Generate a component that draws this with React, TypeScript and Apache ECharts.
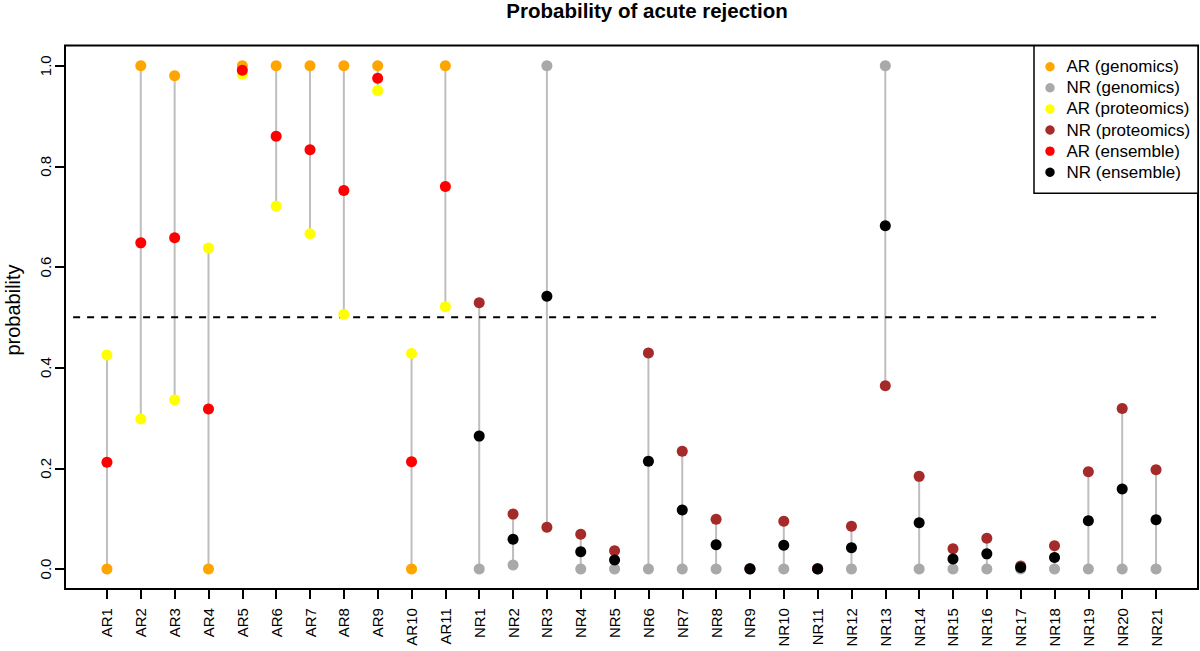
import React, { useEffect, useRef } from "react";
import * as echarts from "echarts";

const arSamples = ["AR1", "AR2", "AR3", "AR4", "AR5", "AR6", "AR7", "AR8", "AR9", "AR10", "AR11"];
const nrSamples = ["NR1", "NR2", "NR3", "NR4", "NR5", "NR6", "NR7", "NR8", "NR9", "NR10", "NR11", "NR12", "NR13", "NR14", "NR15", "NR16", "NR17", "NR18", "NR19", "NR20", "NR21"];

const arGenomics = [0, 1, 0.98, 0, 1, 1, 1, 1, 1, 0, 1];
const arProteomics = [0.425, 0.298, 0.336, 0.638, 0.983, 0.721, 0.666, 0.506, 0.951, 0.428, 0.521];
const arEnsemble = [0.212, 0.648, 0.658, 0.318, 0.991, 0.86, 0.833, 0.752, 0.975, 0.213, 0.76];

const nrGenomics = [0, 0.008, 1, 0, 0, 0, 0, 0, 0, 0, 0, 0, 1, 0, 0, 0, 0, 0, 0, 0, 0];
const nrProteomics = [0.529, 0.109, 0.083, 0.069, 0.036, 0.429, 0.234, 0.099, 0.001, 0.095, 0.001, 0.085, 0.364, 0.184, 0.04, 0.061, 0.006, 0.046, 0.193, 0.319, 0.197];
const nrEnsemble = [0.264, 0.059, 0.542, 0.034, 0.018, 0.214, 0.117, 0.048, 0.0, 0.047, 0.0, 0.042, 0.682, 0.092, 0.02, 0.03, 0.003, 0.023, 0.096, 0.159, 0.098];

const yTicks = [0, 0.2, 0.4, 0.6, 0.8, 1.0];
const threshold = 0.5;
const yAxisTitle = "probability";
const chartTitle = "Probability of acute rejection";
const seriesNames = ["AR (genomics)", "NR (genomics)", "AR (proteomics)", "NR (proteomics)", "AR (ensemble)", "NR (ensemble)"];
const seriesColors = ["#FFA500", "#A9A9A9", "#FFFF00", "#A52A2A", "#FF0000", "#000000"];

const FONT = "'Liberation Sans', Arial, Helvetica, sans-serif";

export default function App() {
  const ref = useRef<HTMLDivElement>(null);

  useEffect(() => {
    if (!ref.current) return;
    const chart = echarts.init(ref.current, undefined, { renderer: "svg" });

    const samples = [...arSamples, ...nrSamples];
    const nAR = arSamples.length;
    const genomics = [...arGenomics, ...nrGenomics];
    const proteomics = [...arProteomics, ...nrProteomics];
    const xIdx = samples.map((_, i) => i);

    const rangeData = samples.map((_, i) => [
      i,
      Math.min(genomics[i], proteomics[i]),
      Math.max(genomics[i], proteomics[i]),
    ]);

    const arPts = (vals: number[]) => vals.map((v, i) => [i, v]);
    const nrPts = (vals: number[]) => vals.map((v, i) => [i + nAR, v]);

    const groups = [
      arPts(arGenomics),
      nrPts(nrGenomics),
      arPts(arProteomics),
      nrPts(nrProteomics),
      arPts(arEnsemble),
      nrPts(nrEnsemble),
    ];

    const legendX = 1034;
    const legendY = 45.7;
    const legendW = 164;
    const legendH = 147.6;
    const rowY0 = 66.7;
    const rowStep = 21.1;

    const graphicElements: any[] = [
      {
        type: "text",
        x: 12.5,
        y: 310,
        rotation: Math.PI / 2,
        style: {
          text: yAxisTitle,
          fill: "#000",
          font: `20px ${FONT}`,
          textAlign: "center",
          textVerticalAlign: "middle",
        },
        z: 101,
      },
      {
        type: "rect",
        shape: { x: legendX, y: legendY, width: legendW, height: legendH },
        style: { fill: "#fff", stroke: "#000", lineWidth: 1.5 },
        z: 100,
      },
    ];
    seriesNames.forEach((name, k) => {
      const cy = rowY0 + k * rowStep;
      graphicElements.push({
        type: "circle",
        shape: { cx: 1050, cy, r: 4.7 },
        style: { fill: seriesColors[k] },
        z: 101,
      });
      graphicElements.push({
        type: "text",
        x: 1066.5,
        y: cy,
        style: {
          text: name,
          fill: "#000",
          font: `17px ${FONT}`,
          textAlign: "left",
          textVerticalAlign: "middle",
        },
        z: 101,
      });
    });

    const option: any = {
      animation: false,
      backgroundColor: "#fff",
      textStyle: { fontFamily: FONT },
      title: {
        text: chartTitle,
        left: 647,
        top: 0,
        padding: 0,
        textAlign: "center",
        textStyle: { fontSize: 20.5, fontWeight: "bold", color: "#000", fontFamily: FONT },
      },
      grid: {
        left: 65,
        top: 45.6,
        width: 1133,
        height: 543.5,
        show: true,
        borderColor: "#000",
        borderWidth: 2,
        backgroundColor: "transparent",
      },
      xAxis: {
        type: "value",
        min: -1.24,
        max: 32.24,
        axisLine: { show: false, onZero: false },
        splitLine: { show: false },
        axisTick: {
          show: true,
          length: 10,
          lineStyle: { color: "#000", width: 2 },
          customValues: xIdx,
        },
        axisLabel: {
          show: true,
          rotate: 90,
          margin: 19,
          fontSize: 15,
          color: "#000",
          fontFamily: FONT,
          customValues: xIdx,
          formatter: (v: number) => samples[Math.round(v)] ?? "",
        },
      },
      yAxis: {
        type: "value",
        min: -0.04,
        max: 1.04,
        axisLine: { show: false, onZero: false },
        splitLine: { show: false },
        axisTick: {
          show: true,
          length: 10,
          lineStyle: { color: "#000", width: 2 },
          customValues: yTicks,
        },
        axisLabel: {
          show: true,
          rotate: 90,
          margin: 12,
          fontSize: 15,
          color: "#000",
          fontFamily: FONT,
          customValues: yTicks,
          formatter: (v: number) => v.toFixed(1),
        },
      },
      graphic: { elements: graphicElements },
      series: [
        {
          type: "custom",
          name: "range",
          data: rangeData,
          encode: { x: 0, y: [1, 2] },
          silent: true,
          renderItem: (params: any, api: any) => {
            const x = api.value(0);
            const p1 = api.coord([x, api.value(1)]);
            const p2 = api.coord([x, api.value(2)]);
            return {
              type: "line",
              shape: { x1: p1[0], y1: p1[1], x2: p2[0], y2: p2[1] },
              style: { stroke: "#BEBEBE", lineWidth: 2 },
            };
          },
          z: 1,
        },
        {
          type: "line",
          name: "threshold",
          data: [
            [-1, threshold],
            [samples.length - 1, threshold],
          ],
          symbol: "none",
          silent: true,
          lineStyle: { color: "#000", width: 2, type: [7, 7] },
          z: 1,
        },
        ...groups.map((d, k) => ({
          type: "scatter",
          name: seriesNames[k],
          data: d,
          symbol: "circle",
          symbolSize: 11,
          itemStyle: { color: seriesColors[k], opacity: 1 },
          z: 2,
        })),
      ],
    };

    chart.setOption(option);
    return () => chart.dispose();
  }, []);

  return (
    <div
      ref={ref}
      style={{ position: "absolute", left: 0, top: 0, width: 1200, height: 651 }}
    />
  );
}
